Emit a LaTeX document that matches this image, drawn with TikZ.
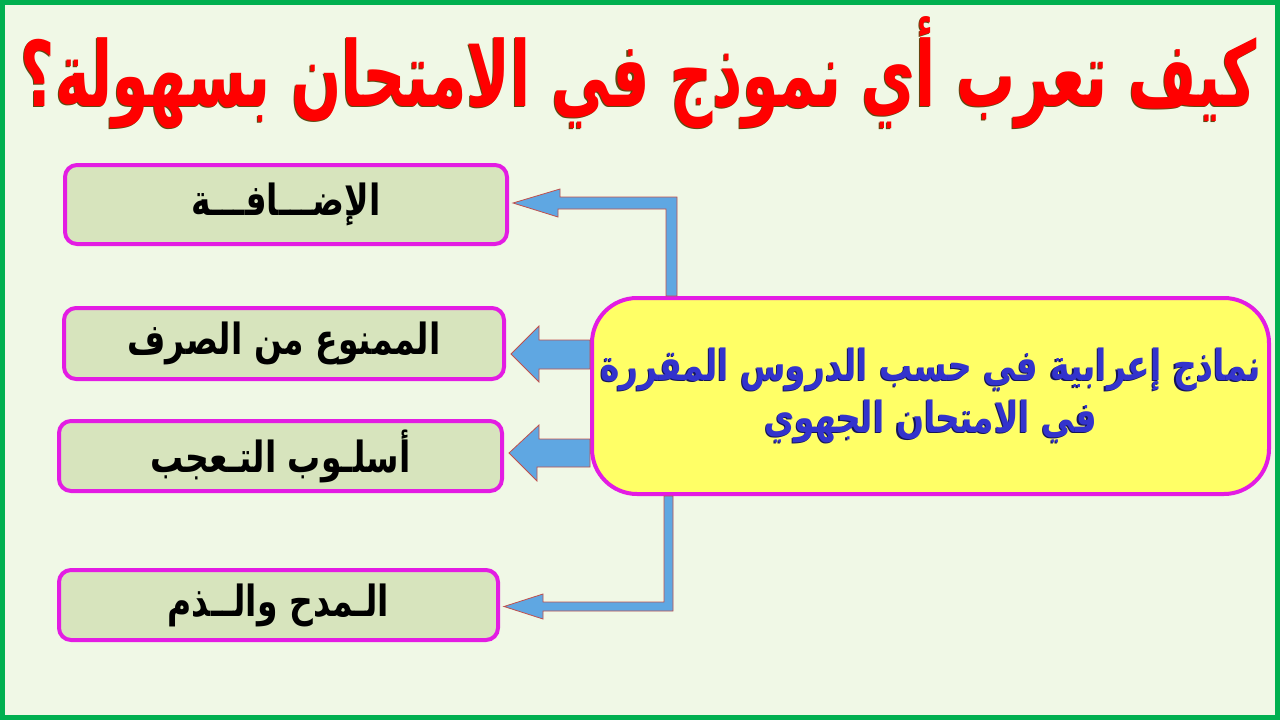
\documentclass[tikz,border=0pt]{standalone}
\usepackage{fontspec}
\usepackage{xcolor}
\usepackage{graphicx}
\TeXXeTstate=1
\newfontfamily\arabicfont[Script=Arabic]{DejaVu Sans}
\definecolor{framegreen}{HTML}{00B050}
\definecolor{bgcolor}{HTML}{F0F8E6}
\definecolor{titlered}{HTML}{FF0000}
\definecolor{titleshade}{HTML}{5E4A12}
\definecolor{boxfill}{HTML}{D7E4BD}
\definecolor{boxline}{HTML}{E31CE3}
\definecolor{mainfill}{HTML}{FFFF66}
\definecolor{mainblue}{HTML}{3333CC}
\definecolor{mainshade}{HTML}{14145A}
\definecolor{arrowblue}{HTML}{5FA7E2}
\definecolor{arrowline}{HTML}{C0504D}
% text with a small dark shadow to the lower left
\newcommand{\shadowed}[2]{\rlap{\raisebox{-1.2pt}{\kern-1.2pt\textcolor{#1}{#2}}}#2}
% the narrow, tall letters of the picture
\newcommand{\tall}[1]{\scalebox{1}[1.3]{#1}}

\begin{document}
\begin{tikzpicture}[x=1pt, y=-1pt,
  choice/.style={draw=boxline, fill=boxfill, line width=4pt, rounded corners=12pt, inner sep=0pt,
    text=black, font=\arabicfont\bfseries\fontsize{33}{40}\selectfont},
  mainbox/.style={draw=boxline, fill=mainfill, line width=4pt, rounded corners=45pt, inner sep=0pt,
    text=mainblue, align=center, font=\arabicfont\bfseries\fontsize{33}{52}\selectfont},
  blockarrow/.style={fill=arrowblue, draw=arrowline, line width=0.8pt}]
\useasboundingbox (0,0) rectangle (1280,720);
\draw[line width=5pt, draw=framegreen, fill=bgcolor] (2.5,2.5) rectangle (1277.5,717.5);

% title
\node[text=titlered, anchor=base, inner sep=0pt, font=\arabicfont\bfseries\fontsize{64}{70}\selectfont] (title) at (639,106)
  {\resizebox{1236pt}{90pt}{\shadowed{titleshade}{\beginR كيف تعرب أي نموذج في الامتحان بسهولة؟\endR}}};

% the four topics
\node[choice, minimum width=442pt, minimum height=79pt] (idafa) at (286,204.5) {\tall{\beginR الإضـــافـــة\endR}};
\node[choice, minimum width=440pt, minimum height=71pt] (mamnou) at (284,343.5) {\tall{\beginR الممنوع من الصرف\endR}};
\node[choice, minimum width=443pt, minimum height=70pt] (taajub) at (280.5,456) {\tall{\beginR أسلـوب التـعجب\endR}};
\node[choice, minimum width=439pt, minimum height=70pt] (madh) at (278.5,605) {\tall{\beginR الـمدح والــذم\endR}};

\node[mainbox, minimum width=677pt, minimum height=196pt] (main) at (930.5,396)
  {\tall{\shadowed{mainshade}{\beginR نماذج إعرابية في حسب الدروس المقررة\endR}}\\
   \tall{\shadowed{mainshade}{\beginR في الامتحان الجهوي\endR}}};

% arrows
\path (idafa.east) ++(4,-1.5) coordinate (t1);
\path (mamnou.east) ++(5,10.5) coordinate (t2);
\path (taajub.east) ++(5,-3) coordinate (t3);
\path (madh.east) ++(4,1.5) coordinate (t4);

\filldraw[blockarrow] (t1) -- ++(47,-14) -- ++(0,8) -- (677,197) -- (677,0 |- main.north)
  -- (666,0 |- main.north) -- (666,209) -- (558,209) -- (558,217) -- cycle;
\filldraw[blockarrow] (t2) -- ++(28,-28) -- ++(0,14) -- (main.west |- 0,340) -- (main.west |- 0,369)
  -- (539,369) -- (539,382) -- cycle;
\filldraw[blockarrow] (t3) -- ++(30,-28) -- ++(0,14) -- (main.west |- 0,439) -- (main.west |- 0,467)
  -- (537,467) -- (537,481) -- cycle;
\filldraw[blockarrow] (t4) -- ++(39,-12.5) -- ++(0,8) -- (664,602) -- (664,0 |- main.south)
  -- (673,0 |- main.south) -- (673,611) -- (543,611) -- (543,619) -- cycle;
\end{tikzpicture}
\end{document}
